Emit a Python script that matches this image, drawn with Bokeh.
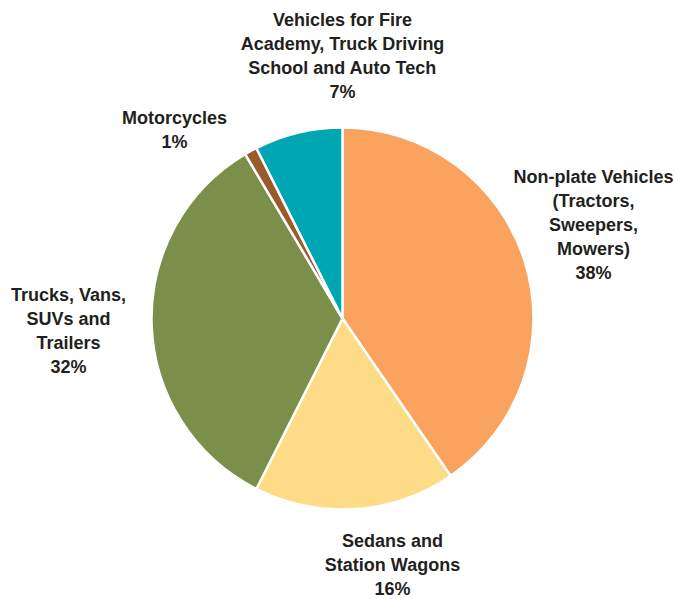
import math
from bokeh.plotting import figure
from bokeh.models import ColumnDataSource, Range1d
from bokeh.core.properties import value
from bokeh.embed import file_html
from bokeh.resources import INLINE

categories = [
    "Non-plate Vehicles\n(Tractors,\nSweepers,\nMowers)",
    "Sedans and\nStation Wagons",
    "Trucks, Vans,\nSUVs and\nTrailers",
    "Motorcycles",
    "Vehicles for Fire\nAcademy, Truck Driving\nSchool and Auto Tech",
]
percentages = [38, 16, 32, 1, 7]
colors = ["#F9A35F", "#FEDB86", "#7B8F4B", "#9C5A2A", "#00A6B1"]

# layout (pixel positions of label centres, top line y)
W, H = 678, 599
cx, cy, R = 342, H - 318, 191
label_xy = [(593, H - 166), (392, H - 530), (68, H - 284), (174, H - 107), (342, H - 9)]

total = sum(percentages)
starts, ends = [], []
a = math.pi / 2
for v in percentages:
    starts.append(a)
    a -= 2 * math.pi * v / total
    ends.append(a)

src = ColumnDataSource(dict(
    start=starts, end=ends, color=colors,
))

p = figure(width=W, height=H, output_backend="svg", toolbar_location=None,
           x_range=Range1d(0, W), y_range=Range1d(0, H), min_border=0)
p.axis.visible = False
p.grid.visible = False
p.outline_line_color = None

p.wedge(x=cx, y=cy, radius=R, start_angle="start", end_angle="end",
        direction="clock", fill_color="color", line_color="white",
        line_width=2.5, source=src)

texts = [f"{c}\n{v}%" for c, v in zip(categories, percentages)]
lsrc = ColumnDataSource(dict(x=[q[0] for q in label_xy], y=[q[1] for q in label_xy], t=texts))
p.text(x="x", y="y", text="t", source=lsrc, text_align="center", text_baseline="top",
       text_font=value("Liberation Sans"), text_font_style="bold",
       text_font_size="18px", text_color="#231F20", text_line_height=1.2)

open("out.html", "w").write(file_html(p, INLINE))
